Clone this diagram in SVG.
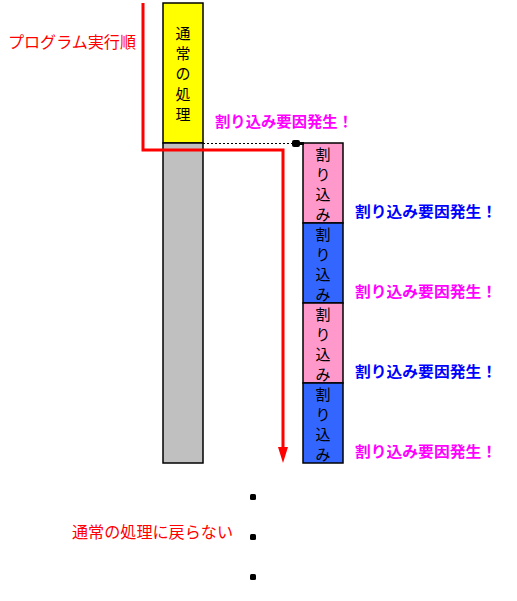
<svg xmlns="http://www.w3.org/2000/svg" width="517" height="601" viewBox="0 0 517 601">
<style>
text{font-family:"Noto Sans CJK JP","Noto Sans CJK SC",sans-serif;}
.box{stroke:#000;stroke-width:1.5;}
.vt{font-size:15px;fill:#000;text-anchor:middle;dominant-baseline:central;}
.lbl{font-size:15px;font-weight:bold;dominant-baseline:central;}
.mag{fill:#FF00FF;}
.blu{fill:#0000FF;}
.red{fill:#FF0000;}
</style>
<rect width="517" height="601" fill="#fff"/>

<g id="normal">
<rect class="box" x="163" y="3" width="40" height="140" fill="#FFFF00"/>
<text class="vt" x="183" y="32">通</text>
<text class="vt" x="183" y="52">常</text>
<text class="vt" x="183" y="72">の</text>
<text class="vt" x="183" y="93">処</text>
<text class="vt" x="183" y="113">理</text>
</g>
<g id="suspended">
<rect class="box" x="163" y="143" width="40" height="320" fill="#C0C0C0"/>
</g>

<g id="int1">
<rect class="box" x="303" y="143" width="40" height="80" fill="#FF99CC"/>
<text class="vt" x="323" y="153">割</text>
<text class="vt" x="323" y="173">り</text>
<text class="vt" x="323" y="193">込</text>
<text class="vt" x="323" y="213">み</text>
</g>
<g id="int2">
<rect class="box" x="303" y="223" width="40" height="80" fill="#3366FF"/>
<text class="vt" x="323" y="233">割</text>
<text class="vt" x="323" y="253">り</text>
<text class="vt" x="323" y="273">込</text>
<text class="vt" x="323" y="293">み</text>
</g>
<g id="int3">
<rect class="box" x="303" y="303" width="40" height="80" fill="#FF99CC"/>
<text class="vt" x="323" y="313">割</text>
<text class="vt" x="323" y="333">り</text>
<text class="vt" x="323" y="353">込</text>
<text class="vt" x="323" y="373">み</text>
</g>
<g id="int4">
<rect class="box" x="303" y="383" width="40" height="80" fill="#3366FF"/>
<text class="vt" x="323" y="393">割</text>
<text class="vt" x="323" y="413">り</text>
<text class="vt" x="323" y="433">込</text>
<text class="vt" x="323" y="453">み</text>
</g>

<g id="connectors">
<path d="M143,3 V150 H283 V450" fill="none" stroke="#FF0000" stroke-width="3"/>
<path d="M278,447 L288,447 L283,463 Z" fill="#FF0000"/>
<line x1="203" y1="143.5" x2="292" y2="143.5" stroke="#000" stroke-width="1.2" stroke-dasharray="2,2"/>
<rect x="292" y="140" width="8" height="7" rx="2" fill="#000"/>
<rect x="299" y="142" width="5" height="3" fill="#000"/>
</g>

<g id="labels">
<text class="lbl red" x="8" y="41" textLength="128" lengthAdjust="spacingAndGlyphs" style="font-weight:normal;font-size:16px">プログラム実行順</text>
<text class="lbl mag" x="215" y="120" textLength="138" lengthAdjust="spacingAndGlyphs">割り込み要因発生！</text>
<text class="lbl blu" x="355" y="210" textLength="142" lengthAdjust="spacingAndGlyphs">割り込み要因発生！</text>
<text class="lbl mag" x="355" y="290" textLength="142" lengthAdjust="spacingAndGlyphs">割り込み要因発生！</text>
<text class="lbl blu" x="355" y="370" textLength="142" lengthAdjust="spacingAndGlyphs">割り込み要因発生！</text>
<text class="lbl mag" x="355" y="450" textLength="142" lengthAdjust="spacingAndGlyphs">割り込み要因発生！</text>
<text class="lbl red" x="72" y="531" textLength="161" lengthAdjust="spacingAndGlyphs" style="font-weight:normal;font-size:16px">通常の処理に戻らない</text>
</g>

<g id="dots" fill="#000">
<rect x="250" y="494" width="6" height="6" rx="1.5"/>
<rect x="250" y="534" width="6" height="6" rx="1.5"/>
<rect x="250" y="574" width="6" height="6" rx="1.5"/>
</g>
</svg>
